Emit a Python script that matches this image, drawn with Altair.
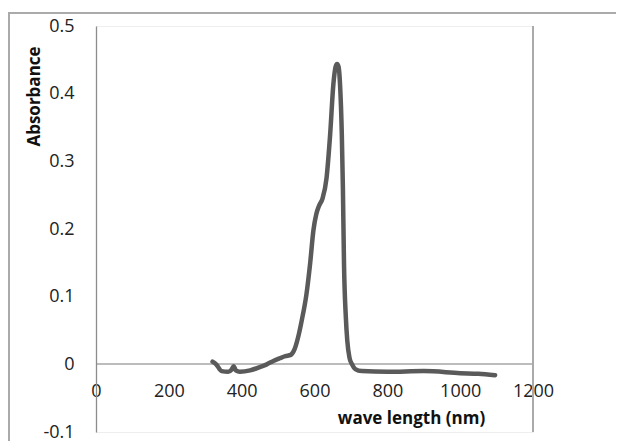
import altair as alt
import pandas as pd

wavelength = [320, 330, 345, 363, 372, 378, 384, 395, 423, 450, 469, 487, 505, 520, 535,
              545, 555, 565, 578, 588, 597, 605, 613, 622, 633, 643, 652, 658, 662, 666,
              670, 675, 678, 681, 686, 690, 696, 703, 712, 730, 800, 900, 1000, 1050, 1096]
absorbance = [0.004, 0.000, -0.010, -0.011, -0.008, -0.003, -0.009, -0.011, -0.009, -0.004,
              0.000, 0.005, 0.009, 0.012, 0.014, 0.022, 0.040, 0.065, 0.104, 0.149, 0.198,
              0.222, 0.235, 0.245, 0.275, 0.340, 0.415, 0.440, 0.444, 0.440, 0.415, 0.340,
              0.260, 0.149, 0.070, 0.035, 0.010, 0.000, -0.007, -0.010, -0.011, -0.010,
              -0.013, -0.014, -0.016]
x_ticks = [0, 200, 400, 600, 800, 1000, 1200]
y_ticks = [-0.1, 0, 0.1, 0.2, 0.3, 0.4, 0.5]

df = pd.DataFrame({"wl": wavelength, "abs": absorbance})

W, H = 437, 406
FONT = "Open Sans"

x_scale = alt.Scale(domain=[0, 1200], nice=False)
y_scale = alt.Scale(domain=[-0.1, 0.5], nice=False, zero=False)

line = alt.Chart(df).mark_line(
    color="#5a5a5a", strokeWidth=4.5, interpolate="monotone", strokeCap="round"
).encode(
    x=alt.X("wl:Q", scale=x_scale,
            axis=alt.Axis(orient="bottom", offset=-68.5, values=x_ticks, grid=False,
                          ticks=False, tickSize=0, domainColor="#a6a6a6", domainWidth=1.3,
                          labelPadding=19, labelFlush=False, labelOverlap=False,
                          labelExpr="format(datum.value, 'd')",
                          labelFont=FONT, labelFontSize=18, labelColor="#222222",
                          title="wave length (nm)", titleFont=FONT, titleFontSize=17,
                          titleFontWeight="bold", titleColor="#111111",
                          titleX=315, titleY=59.5, titleAlign="center",
                          titleBaseline="alphabetic")),
    y=alt.Y("abs:Q", scale=y_scale,
            axis=alt.Axis(values=y_ticks, grid=False, ticks=False, tickSize=0,
                          domainColor="#8c8c8c", domainWidth=1.3, labelPadding=22,
                          labelFont=FONT, labelFontSize=18, labelColor="#222222",
                          labelExpr="replace(format(datum.value, '~g'), '\u2212', '-')",
                          labelOverlap=False, labelFlush=False,
                          title="Absorbance", titleFont=FONT, titleFontSize=17,
                          titleFontWeight="bold", titleColor="#111111",
                          titleX=-62, titleY=70, titleAngle=270, titleAlign="center",
                          titleBaseline="middle")),
)

right_edge = alt.Chart(pd.DataFrame({"v": [1200]})).mark_rule(
    color="#aaaaaa", strokeWidth=2
).encode(x=alt.X("v:Q", scale=x_scale))

frame_top = alt.Chart(pd.DataFrame({"a": [0]})).mark_rule(
    color="#aaaaaa", strokeWidth=2, clip=False
).encode(x=alt.value(-88), x2=alt.value(W + 83), y=alt.value(-13))

frame_left = alt.Chart(pd.DataFrame({"a": [0]})).mark_rule(
    color="#aaaaaa", strokeWidth=2, clip=False
).encode(x=alt.value(-87), y=alt.value(-13), y2=alt.value(H + 9))

chart = alt.layer(frame_top, frame_left, right_edge, line).properties(
    width=W, height=H,
    autosize=alt.AutoSizeParams(type="none"),
    padding={"left": 88, "top": 18, "right": 83, "bottom": 9},
    background="white",
).configure_view(stroke="#eeeeee", strokeWidth=1)

chart.save("out.html", embed_options={"renderer": "svg", "actions": False})
